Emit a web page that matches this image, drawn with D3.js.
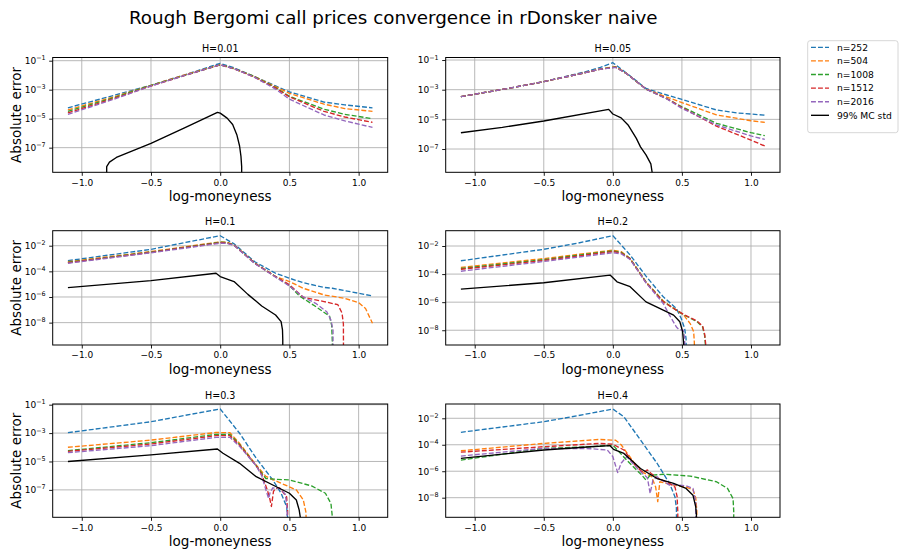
<!DOCTYPE html>
<html><head><meta charset="utf-8">
<script src="https://cdn.jsdelivr.net/npm/d3@7"></script>
<style>body{margin:0;background:#fff}svg{display:block}text{font-family:"DejaVu Sans",sans-serif;fill:#000}</style>
</head><body><svg id="c" width="899" height="557"></svg>
<script>
// ---------- data ----------
const suptitle = "Rough Bergomi call prices convergence in rDonsker naive";
const seriesNames = ["n=252","n=504","n=1008","n=1512","n=2016"];
const mcLabel = "99% MC std";
const panelTitles = ["H=0.01","H=0.05","H=0.1","H=0.2","H=0.3","H=0.4"];
const xLabel = "log-moneyness";
const yLabel = "Absolute error";
const xTicks = [-1.0,-0.5,0.0,0.5,1.0];
const yTicksOdd = [1e-1,1e-3,1e-5,1e-7];
const yTicksEven = [1e-2,1e-4,1e-6,1e-8];
const xRange = [-1.21, 1.21];
const yRangeH001 = [2.0e-9, 1.66e-1];
const yRangeH005 = [2.7e-9, 1.48e-1];
const yRangeH01 = [1.8e-10, 1.48e-1];
const yRangeH02 = [8.9e-10, 1.23e-1];
const yRangeH03 = [1.17e-9, 1.12e-1];
const yRangeH04 = [3.3e-10, 1.2e-1];

// H = 0.01
const h001_n252 = [[-1.1,5.6e-5],[-0.75,4.5e-4],[-0.5,2.0e-3],[-0.25,1.1e-2],[0,6.6e-2],[0.1,3.2e-2],[0.25,7.9e-3],[0.4,1.8e-3],[0.5,7.1e-4],[0.75,1.4e-4],[0.9,8.9e-5],[1.1,5.6e-5]];
const h001_n504 = [[-1.1,4.0e-5],[-0.75,3.6e-4],[-0.5,2.0e-3],[-0.25,1.1e-2],[0,5.2e-2],[0.1,2.8e-2],[0.25,7.9e-3],[0.4,1.6e-3],[0.5,5.6e-4],[0.75,1.0e-4],[0.9,5.0e-5],[1.1,3.2e-5]];
const h001_n1008 = [[-1.1,3.2e-5],[-0.75,3.2e-4],[-0.5,2.0e-3],[-0.25,1.0e-2],[0,5.2e-2],[0.1,2.8e-2],[0.25,7.9e-3],[0.4,1.4e-3],[0.5,3.5e-4],[0.75,4.5e-5],[0.9,2.0e-5],[1.1,1.0e-5]];
const h001_n1512 = [[-1.1,2.5e-5],[-0.75,2.8e-4],[-0.5,1.8e-3],[-0.25,1.0e-2],[0,5.2e-2],[0.1,2.8e-2],[0.25,7.1e-3],[0.4,1.3e-3],[0.5,3.2e-4],[0.75,3.2e-5],[0.9,1.3e-5],[1.1,5.6e-6]];
const h001_n2016 = [[-1.1,2.0e-5],[-0.75,2.5e-4],[-0.5,1.8e-3],[-0.25,1.0e-2],[0,5.2e-2],[0.1,2.8e-2],[0.25,7.1e-3],[0.4,1.1e-3],[0.5,2.2e-4],[0.75,1.8e-5],[0.9,7.1e-6],[1.1,2.5e-6]];
const h001_mc = [[-0.82,1e-15],[-0.82,5.0e-9],[-0.8,1.0e-8],[-0.75,2.1e-8],[-0.5,2.0e-7],[-0.25,2.5e-6],[-0.02,2.75e-5],[0.0,2.4e-5],[0.05,1.1e-5],[0.09,4.0e-6],[0.12,7.9e-7],[0.14,1.3e-7],[0.15,2.5e-8],[0.155,5.0e-9],[0.156,1e-15]];

// H = 0.05
const h005_n252 = [[-1.1,3.4e-4],[-0.75,1.26e-3],[-0.5,3.5e-3],[-0.2,1.6e-2],[-0.09,3.2e-2],[0,6.6e-2],[0.1,1.3e-2],[0.24,1.2e-3],[0.39,4.4e-4],[0.5,2.2e-4],[0.75,4.3e-5],[0.9,2.7e-5],[1.0,2.3e-5],[1.1,1.9e-5]];
const h005_n504 = [[-1.1,3.4e-4],[-0.75,1.26e-3],[-0.5,3.5e-3],[-0.2,1.4e-2],[-0.09,2.5e-2],[0.02,3.6e-2],[0.1,1.2e-2],[0.24,1.1e-3],[0.39,3.2e-4],[0.5,1.35e-4],[0.75,2.0e-5],[1.0,8.1e-6],[1.1,6.3e-6]];
const h005_n1008 = [[-1.1,3.4e-4],[-0.75,1.26e-3],[-0.5,3.5e-3],[-0.2,1.4e-2],[-0.09,2.45e-2],[0.02,3.4e-2],[0.1,1.2e-2],[0.24,1.1e-3],[0.39,2.5e-4],[0.5,7.1e-5],[0.75,5.4e-6],[1.0,1.26e-6],[1.1,7.9e-7]];
const h005_n1512 = [[-1.1,3.4e-4],[-0.75,1.26e-3],[-0.5,3.5e-3],[-0.2,1.4e-2],[-0.09,2.4e-2],[0.02,3.3e-2],[0.1,1.2e-2],[0.24,1.1e-3],[0.39,2.5e-4],[0.5,6.3e-5],[0.75,3.5e-6],[1.0,4.0e-7],[1.1,1.6e-7]];
const h005_n2016 = [[-1.1,3.4e-4],[-0.75,1.26e-3],[-0.5,3.5e-3],[-0.2,1.4e-2],[-0.09,2.4e-2],[0.02,3.2e-2],[0.1,1.2e-2],[0.24,1.1e-3],[0.39,2.4e-4],[0.5,5.5e-5],[0.75,4.2e-6],[1.0,7.6e-7],[1.1,4.5e-7]];
const h005_mc = [[-1.1,1.26e-6],[-0.8,2.9e-6],[-0.5,7.8e-6],[-0.03,4.7e-5],[0,2.3e-5],[0.06,1.26e-5],[0.11,4.2e-6],[0.17,5.2e-7],[0.2,1.4e-7],[0.24,4.0e-8],[0.275,1.0e-8],[0.285,2.5e-9],[0.286,1e-15]];

// H = 0.1
const h01_n252 = [[-1.1,6.8e-4],[-0.5,5.2e-3],[-0.25,1.8e-2],[0,6.0e-2],[0.1,1.4e-2],[0.25,5.6e-4],[0.4,7.1e-5],[0.5,2.9e-5],[0.6,1.3e-5],[0.75,5.6e-6],[0.81,4.8e-6],[1.0,1.95e-6],[1.1,1.2e-6]];
const h01_n504 = [[-1.1,5.6e-4],[-0.5,3.5e-3],[0,2.0e-2],[0.05,1.9e-2],[0.1,1.15e-2],[0.25,4.3e-4],[0.4,3.9e-5],[0.5,1.6e-5],[0.6,4.8e-6],[0.75,1.45e-6],[0.9,7.9e-7],[1.0,3.6e-7],[1.05,1.26e-7],[1.1,8.9e-9]];
const h01_n1008 = [[-1.1,5.0e-4],[-0.5,3.2e-3],[0,1.86e-2],[0.05,1.74e-2],[0.1,1.12e-2],[0.25,4.3e-4],[0.4,3.9e-5],[0.5,7.9e-6],[0.57,1.26e-6],[0.69,1.8e-7],[0.79,3.2e-8],[0.805,6.3e-9],[0.81,3.2e-10],[0.811,1e-15]];
const h01_n1512 = [[-1.1,4.7e-4],[-0.5,3.0e-3],[0,1.74e-2],[0.05,1.66e-2],[0.1,1.1e-2],[0.25,4.3e-4],[0.4,3.9e-5],[0.5,8.9e-6],[0.6,9.5e-7],[0.75,4.4e-7],[0.85,2.5e-7],[0.88,5.6e-8],[0.89,7.9e-9],[0.892,1e-15]];
const h01_n2016 = [[-1.1,4.3e-4],[-0.5,2.8e-3],[0,1.55e-2],[0.05,1.5e-2],[0.1,1.07e-2],[0.25,4.0e-4],[0.4,3.55e-5],[0.5,7.2e-6],[0.6,1.0e-6],[0.69,3.2e-7],[0.77,7.1e-8],[0.8,1.6e-8],[0.815,2.5e-9],[0.816,1e-15]];
const h01_mc = [[-1.1,5.4e-6],[-0.5,1.9e-5],[-0.03,7.1e-5],[0,3.9e-5],[0.1,1.6e-5],[0.2,1.6e-6],[0.3,2.0e-7],[0.4,3.9e-8],[0.44,1.2e-8],[0.45,2.7e-9],[0.452,5.0e-10],[0.453,1e-15]];

// H = 0.2
const h02_n252 = [[-1.1,8.9e-4],[-0.5,5.8e-3],[-0.26,1.55e-2],[0,5.5e-2],[0.125,2.3e-3],[0.24,7.1e-5],[0.365,2.4e-6],[0.46,3.5e-7],[0.495,6.9e-8],[0.52,1.3e-8],[0.53,2.5e-9],[0.532,1e-15]];
const h02_n504 = [[-1.1,3.0e-4],[-0.5,1.26e-3],[0,5.1e-3],[0.06,4.0e-3],[0.125,1.3e-3],[0.24,2.8e-5],[0.365,1.2e-6],[0.46,2.7e-7],[0.51,1.3e-7],[0.56,3.0e-8],[0.585,7.9e-9],[0.59,1.3e-9],[0.591,1e-15]];
const h02_n1008 = [[-1.1,2.5e-4],[-0.5,1.07e-3],[0,4.5e-3],[0.06,3.5e-3],[0.125,1.26e-3],[0.24,2.7e-5],[0.365,1.1e-6],[0.46,2.7e-7],[0.51,1.3e-7],[0.61,4.0e-8],[0.65,1.7e-8],[0.665,4.0e-9],[0.67,1.0e-9],[0.671,1e-15]];
const h02_n1512 = [[-1.1,2.2e-4],[-0.5,9.3e-4],[0,4.0e-3],[0.06,3.2e-3],[0.125,1.2e-3],[0.24,2.5e-5],[0.365,1.07e-6],[0.46,2.7e-7],[0.51,1.4e-7],[0.61,4.5e-8],[0.65,2.0e-8],[0.665,5.0e-9],[0.672,1.0e-9],[0.673,1e-15]];
const h02_n2016 = [[-1.1,1.6e-4],[-0.5,7.9e-4],[0,3.3e-3],[0.06,2.8e-3],[0.125,1.1e-3],[0.24,2.4e-5],[0.365,7.9e-7],[0.41,1.2e-7],[0.46,1.7e-8],[0.48,1.1e-8],[0.51,1.0e-8],[0.52,2.5e-9],[0.522,1e-15]];
const h02_mc = [[-1.1,8.5e-6],[-0.5,2.4e-5],[-0.02,8.5e-5],[0.03,2.8e-5],[0.125,1.26e-5],[0.24,1.05e-6],[0.365,2.7e-7],[0.44,1.2e-7],[0.485,4.0e-8],[0.505,7.9e-9],[0.512,1.3e-9],[0.513,1e-15]];

// H = 0.3
const h03_n252 = [[-1.1,1.07e-3],[-0.5,6.3e-3],[-0.25,1.8e-2],[0,5.0e-2],[0.14,9.8e-4],[0.26,1.7e-5],[0.38,5.0e-7],[0.44,5.8e-8],[0.48,6.6e-9],[0.486,1.3e-9],[0.487,1e-15]];
const h03_n504 = [[-1.1,1.0e-4],[-0.5,3.2e-4],[-0.03,1.1e-3],[0.07,1.07e-3],[0.14,1.9e-4],[0.26,5.6e-6],[0.33,8.9e-7],[0.43,3.2e-7],[0.55,1.0e-7],[0.6,2.0e-8],[0.62,2.5e-9],[0.625,1e-15]];
const h03_n1008 = [[-1.1,5.8e-5],[-0.5,2.1e-4],[-0.03,8.1e-4],[0.07,8.1e-4],[0.14,1.6e-4],[0.26,5.0e-6],[0.33,6.3e-7],[0.4,5.6e-7],[0.5,5.0e-7],[0.66,1.9e-7],[0.76,5.8e-8],[0.8,1.1e-8],[0.81,1.3e-9],[0.811,1e-15]];
const h03_n1512 = [[-1.1,5.2e-5],[-0.5,1.7e-4],[-0.03,6.6e-4],[0.07,6.6e-4],[0.14,1.4e-4],[0.26,5.0e-6],[0.3,1.26e-6],[0.34,1.0e-7],[0.36,2.0e-8],[0.37,6.8e-9],[0.385,7.9e-8],[0.4,1.26e-7],[0.43,1.35e-7],[0.48,3.2e-8],[0.487,3.2e-9],[0.488,1e-15]];
const h03_n2016 = [[-1.1,4.2e-5],[-0.5,1.3e-4],[-0.03,5.0e-4],[0.07,5.0e-4],[0.14,1.17e-4],[0.26,5.0e-6],[0.3,1.0e-6],[0.33,1.0e-7],[0.35,2.5e-8],[0.36,6.3e-8],[0.38,1.4e-7],[0.43,1.26e-7],[0.47,5.0e-8],[0.483,5.0e-9],[0.485,1e-15]];
const h03_mc = [[-1.1,1.0e-5],[-0.5,2.9e-5],[-0.02,7.6e-5],[0.02,3.8e-5],[0.14,7.4e-6],[0.26,8.5e-7],[0.38,2.2e-7],[0.5,5.8e-8],[0.55,1.95e-8],[0.57,4.0e-9],[0.578,1.3e-9],[0.579,1e-15]];

// H = 0.4
const h04_n252 = [[-1.1,8.7e-4],[-0.5,5.5e-3],[-0.25,1.6e-2],[0,5.0e-2],[0.08,1.3e-2],[0.2,2.3e-4],[0.32,4.0e-6],[0.41,1.2e-7],[0.45,1.15e-8],[0.46,1.6e-9],[0.465,1e-15]];
const h04_n504 = [[-1.1,3.5e-5],[-0.5,1.26e-4],[-0.1,2.5e-4],[0.02,2.2e-4],[0.06,1.0e-4],[0.15,5.0e-6],[0.22,7.9e-7],[0.28,4.0e-7],[0.31,6.3e-8],[0.325,5.0e-9],[0.34,1.6e-7],[0.4,1.1e-7],[0.47,7.9e-8],[0.53,6.3e-8],[0.58,4.0e-8],[0.6,1.0e-8],[0.608,1.0e-9],[0.61,1e-15]];
const h04_n1008 = [[-1.1,6.9e-6],[-0.5,5.4e-5],[-0.16,7.1e-5],[0,9.5e-5],[0.1,6.9e-6],[0.21,5.0e-7],[0.24,2.1e-7],[0.27,5.0e-7],[0.37,5.9e-7],[0.56,4.3e-7],[0.75,1.6e-7],[0.83,5.0e-8],[0.87,8.7e-9],[0.875,1.0e-9],[0.876,1e-15]];
const h04_n1512 = [[-1.1,2.75e-5],[-0.5,7.1e-5],[-0.1,1.26e-4],[0,1.1e-4],[0.08,4.0e-5],[0.17,2.1e-6],[0.22,7.9e-7],[0.25,1.26e-6],[0.28,6.3e-7],[0.32,3.2e-7],[0.41,1.2e-7],[0.45,6.3e-8],[0.465,1.26e-8],[0.47,1.0e-9],[0.471,1e-15]];
const h04_n2016 = [[-1.1,1.4e-5],[-0.5,5.4e-5],[-0.16,5.0e-5],[-0.04,4.0e-5],[0,1.26e-5],[0.035,7.9e-7],[0.06,4.0e-6],[0.1,1.26e-5],[0.2,9.1e-7],[0.25,3.2e-7],[0.27,2.1e-8],[0.29,2.1e-7],[0.32,3.8e-7],[0.41,8.9e-8],[0.44,1.0e-7],[0.48,8.9e-8],[0.53,7.9e-8],[0.58,5.0e-8],[0.6,5.0e-9],[0.605,1e-15]];
const h04_mc = [[-1.1,9.3e-6],[-0.5,4.0e-5],[-0.16,7.1e-5],[-0.02,8.5e-5],[0.005,4.5e-5],[0.08,2.2e-5],[0.2,1.6e-6],[0.32,2.8e-7],[0.44,1.2e-7],[0.53,5.0e-8],[0.58,1.55e-8],[0.6,2.0e-9],[0.605,5.0e-10],[0.607,1e-15]];

// ---------- assembly ----------
const panels = [
  {title: panelTitles[0], yRange: yRangeH001, ticks: yTicksOdd,  series: [h001_n252,h001_n504,h001_n1008,h001_n1512,h001_n2016], mc: h001_mc},
  {title: panelTitles[1], yRange: yRangeH005, ticks: yTicksOdd,  series: [h005_n252,h005_n504,h005_n1008,h005_n1512,h005_n2016], mc: h005_mc},
  {title: panelTitles[2], yRange: yRangeH01,  ticks: yTicksEven, series: [h01_n252,h01_n504,h01_n1008,h01_n1512,h01_n2016], mc: h01_mc},
  {title: panelTitles[3], yRange: yRangeH02,  ticks: yTicksEven, series: [h02_n252,h02_n504,h02_n1008,h02_n1512,h02_n2016], mc: h02_mc},
  {title: panelTitles[4], yRange: yRangeH03,  ticks: yTicksOdd,  series: [h03_n252,h03_n504,h03_n1008,h03_n1512,h03_n2016], mc: h03_mc},
  {title: panelTitles[5], yRange: yRangeH04,  ticks: yTicksEven, series: [h04_n252,h04_n504,h04_n1008,h04_n1512,h04_n2016], mc: h04_mc}
];
const colors = ["#1f77b4","#ff7f0e","#2ca02c","#d62728","#9467bd"];
const colX = [[52.7,387.7],[445.7,780]];
const rowY = [[57.5,172.3],[230.7,345],[404,517.3]];
const LW = 1.35, DASH = "4.9,2.1";

const svg = d3.select("#c");
svg.append("rect").attr("width",899).attr("height",557).attr("fill","#fff");
svg.append("text").attr("x",393.3).attr("y",23.5).attr("text-anchor","middle")
  .attr("font-size",18.3).text(suptitle);
const defs = svg.append("defs");
const fmtX = d3.format(".1f");

panels.forEach((p,i)=>{
  const col = i%2, row = Math.floor(i/2);
  const [x0,x1] = colX[col], [y0,y1] = rowY[row];
  const x = d3.scaleLinear().domain(xRange).range([x0,x1]);
  const y = d3.scaleLog().domain(p.yRange).range([y1,y0]);
  const g = svg.append("g");
  const cid = "clip"+i;
  defs.append("clipPath").attr("id",cid).append("rect")
    .attr("x",x0).attr("y",y0).attr("width",x1-x0).attr("height",y1-y0);
  // grid
  g.append("g").selectAll("line").data(xTicks).join("line")
    .attr("x1",d=>x(d)).attr("x2",d=>x(d)).attr("y1",y0).attr("y2",y1)
    .attr("stroke","#b0b0b0").attr("stroke-width",0.9);
  g.append("g").selectAll("line").data(p.ticks).join("line")
    .attr("x1",x0).attr("x2",x1).attr("y1",d=>y(d)).attr("y2",d=>y(d))
    .attr("stroke","#b0b0b0").attr("stroke-width",0.9);
  // lines
  const line = d3.line().x(d=>x(d[0])).y(d=>y(d[1]));
  const lg = g.append("g").attr("clip-path",`url(#${cid})`);
  p.series.forEach((s,k)=>{
    lg.append("path").attr("d",line(s)).attr("fill","none").attr("stroke",colors[k])
      .attr("stroke-width",LW).attr("stroke-dasharray",DASH).attr("stroke-linejoin","round");
  });
  lg.append("path").attr("d",line(p.mc)).attr("fill","none").attr("stroke","#000")
    .attr("stroke-width",LW).attr("stroke-linejoin","round");
  // spines
  g.append("rect").attr("x",x0).attr("y",y0).attr("width",x1-x0).attr("height",y1-y0)
    .attr("fill","none").attr("stroke","#000").attr("stroke-width",1);
  // x axis
  const xa = g.append("g").attr("transform",`translate(0,${y1})`)
    .call(d3.axisBottom(x).tickValues(xTicks).tickSize(3.5).tickPadding(3.5).tickFormat(d=>fmtX(d)));
  xa.select(".domain").remove();
  xa.selectAll("line").attr("stroke","#000").attr("stroke-width",0.9);
  xa.selectAll("text").attr("font-family","DejaVu Sans").attr("font-size",9).attr("fill","#000");
  xa.attr("font-family",null).attr("font-size",null);
  // y axis ticks
  const ya = g.append("g").attr("transform",`translate(${x0},0)`)
    .call(d3.axisLeft(y).tickValues(p.ticks).tickSize(3.5).tickFormat(""));
  ya.select(".domain").remove();
  ya.selectAll("line").attr("stroke","#000").attr("stroke-width",0.9);
  const yl = g.append("g").selectAll("text").data(p.ticks).join("text")
    .attr("x",x0-7).attr("y",d=>y(d)+3.3).attr("text-anchor","end").attr("font-size",9);
  yl.append("tspan").text("10");
  yl.append("tspan").attr("dy",-3.8).attr("font-size",6.4)
    .text(d=>"\u2212"+Math.round(-Math.log10(d)));
  // title
  g.append("text").attr("x",(x0+x1)/2).attr("y",y0-5.3).attr("text-anchor","middle")
    .attr("font-size",9.6).text(p.title);
  // x label
  g.append("text").attr("x",(x0+x1)/2).attr("y",y1+29).attr("text-anchor","middle")
    .attr("font-size",13.5).text(xLabel);
  if(col===0){
    g.append("text").attr("transform",`translate(20.5,${(y0+y1)/2}) rotate(-90)`)
      .attr("text-anchor","middle").attr("font-size",13.5).text(yLabel);
  }
});

// legend
const leg = svg.append("g");
leg.append("rect").attr("x",807.7).attr("y",40.7).attr("width",90.3).attr("height",92)
  .attr("rx",2.5).attr("fill","#fff").attr("fill-opacity",0.8).attr("stroke","#cccccc").attr("stroke-width",0.8);
const legItems = seriesNames.map((n,k)=>({name:n,color:colors[k],dash:true})).concat([{name:mcLabel,color:"#000",dash:false}]);
const ly = d3.scalePoint().domain(legItems.map(d=>d.name)).range([47.3,115.3]);
legItems.forEach(it=>{
  const yy = ly(it.name);
  leg.append("line").attr("x1",811).attr("x2",829).attr("y1",yy).attr("y2",yy)
    .attr("stroke",it.color).attr("stroke-width",LW).attr("stroke-dasharray",it.dash?DASH:null);
  leg.append("text").attr("x",837).attr("y",yy+3.2).attr("font-size",9.2).text(it.name);
});
</script></body></html>
